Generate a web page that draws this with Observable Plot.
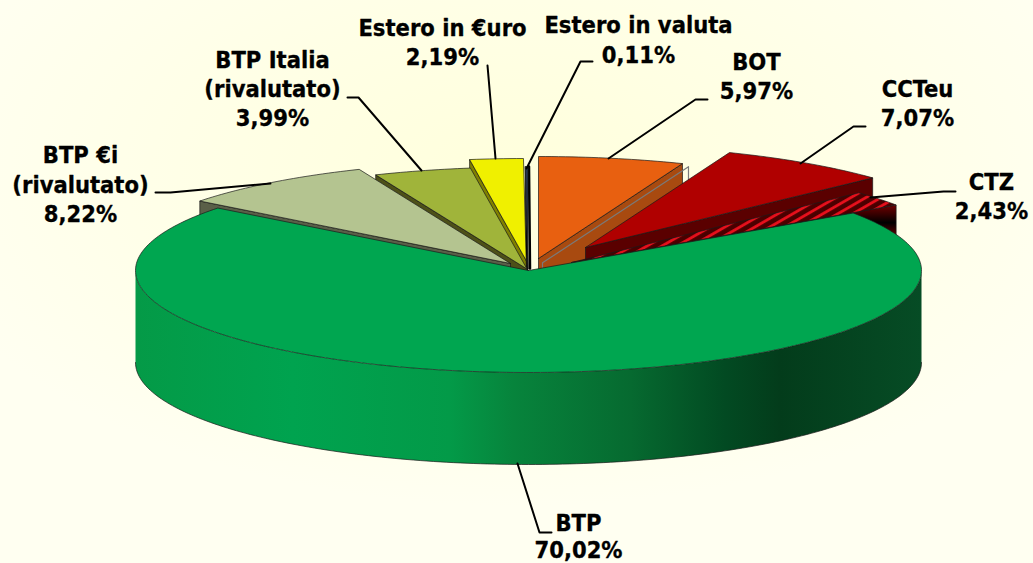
<!DOCTYPE html>
<html><head><meta charset="utf-8">
<style>html,body{margin:0;padding:0;background:#FFFFF0;overflow:hidden}</style>
<script src="https://cdn.jsdelivr.net/npm/d3@7"></script>
<script src="https://cdn.jsdelivr.net/npm/@observablehq/plot@0.6"></script>
</head><body><div id="chart"></div>
<script>
// Data, clockwise from 12 o'clock
const names = ["BOT","CCTeu","CTZ","BTP","BTP €i","BTP Italia","Estero in €uro","Estero in valuta"];
const values = [5.97,7.07,2.43,70.02,8.22,3.99,2.19,0.11];
// Explosion offset of each slice
const offsetX = [10,57,43,0,-18,-1.5,-2.3,-0.5];
const offsetY = [-12,-23,-8,0,-7,-1.5,-10,-2];
const topFill = ["#E86010","#B00000","url(#hatch)","#00A650","#B4C490","#A0B43A","#F0F000","#26364F"];
const sideFill = ["#A84A10","#5A0000","url(#ctzSide)","url(#rim)","#5A5F48","#4D5018","#808000","#000000"];
// Geometry of the pie
const cx = 528, cy = 270, rx = 393, ry = 102, depth = 92;
// Label layout
const labelLines = [
  ["Estero in €uro",442,28],["2,19%",442,57],
  ["Estero in valuta",638,25],["0,11%",638,55],
  ["BOT",756,62],["5,97%",756,91],
  ["CCTeu",917,89],["7,07%",917,118],
  ["CTZ",991,182],["2,43%",991,211],
  ["BTP Italia",272,60],["(rivalutato)",272,89],["3,99%",272,118],
  ["BTP €i",80,155],["(rivalutato)",80,185],["8,22%",80,214],
  ["BTP",578,523],["70,02%",578,550]
];
const leaders = [
  [[487,65],[495,158]],
  [[592,61],[580,61],[526,168]],
  [[707,99],[695,99],[608,158]],
  [[865,126],[853,126],[800,163]],
  [[955,191],[943,191],[870,197]],
  [[347,97],[358,97],[421,170]],
  [[155,192],[170,192],[270,183]],
  [[517,463],[539,532],[551,532]]
];

const rad = d => d * Math.PI / 180;
let cum = 0;
const slices = names.map((name, i) => {
  const a0 = 90 - cum * 3.6;
  cum += values[i];
  const a1 = 90 - cum * 3.6;
  return {name, a0, a1, ox: cx + offsetX[i], oy: cy + offsetY[i], top: topFill[i], side: sideFill[i]};
});
const pt = (s, a, dz = 0) => [s.ox + rx * Math.cos(rad(a)), s.oy - ry * Math.sin(rad(a)) + dz];
const arc = (s, from, to, dz = 0) => {
  const n = Math.max(2, Math.ceil(Math.abs(to - from)));
  return d3.range(n + 1).map(k => pt(s, from + (to - from) * k / n, dz));
};
const closed = p => [...p, p[0]];
const edgeColor = "#1a1a1a";

function poly(points, fill, stroke = edgeColor, strokeWidth = 0.7) {
  return Plot.line(closed(points), {x: d => d[0], y: d => d[1], fill, stroke, strokeWidth});
}
function sliceMarks(s, extra = []) {
  const mid = (s.a0 + s.a1) / 2;
  const lowAngle = Math.cos(rad(mid)) > 0 ? s.a1 : s.a0;
  const e = pt(s, lowAngle), e2 = pt(s, lowAngle, depth);
  return [
    poly([[s.ox, s.oy], e, e2, [s.ox, s.oy + depth]], s.side),
    ...extra,
    poly([[s.ox, s.oy], ...arc(s, s.a0, s.a1)], s.top)
  ];
}
const [bot, cct, ctz, btp, bei, ita, eur, val] = slices;

// Thin grey outline behind the BOT cut face
const botE = pt(bot, bot.a1);
const k = (botE[1] - bot.oy) / (botE[0] - bot.ox);
const greyOutline = Plot.line(
  [[bot.ox + 4, bot.oy + 9], [bot.ox + 4, bot.oy + 4 * k + 7], [botE[0] + 6, bot.oy + (botE[0] + 6 - bot.ox) * k + 7], [botE[0] + 6, botE[1] + 19]],
  {x: d => d[0], y: d => d[1], stroke: "#7a7a7a", strokeWidth: 1.2}
);
// The very thin "Estero in valuta" slice reads as a dark sliver
const valSliver = Plot.line([[val.ox + 1, val.oy], pt(val, val.a1)].map(([x, y]) => [x + 1, y]),
  {x: d => d[0], y: d => d[1], stroke: "#000", strokeWidth: 2.5});

const defs = () => {
  const d = document.createElementNS("http://www.w3.org/2000/svg", "defs");
  d.innerHTML = `
  <linearGradient id="rim" gradientUnits="userSpaceOnUse" x1="135" x2="921" y1="0" y2="0">
    <stop offset="0" stop-color="#049A47"/><stop offset="0.2" stop-color="#00A34F"/>
    <stop offset="0.4" stop-color="#039A48"/><stop offset="0.48" stop-color="#07843C"/>
    <stop offset="0.63" stop-color="#066A30"/><stop offset="0.75" stop-color="#024A22"/>
    <stop offset="0.82" stop-color="#033C1B"/><stop offset="1" stop-color="#064C25"/>
  </linearGradient>
  <linearGradient id="ctzSide" gradientUnits="userSpaceOnUse" x1="0" x2="0" y1="203" y2="238">
    <stop offset="0" stop-color="#7A0000"/><stop offset="0.55" stop-color="#000000"/>
    <stop offset="1" stop-color="#7A0000"/>
  </linearGradient>
  <pattern id="hatch" patternUnits="userSpaceOnUse" width="7.5" height="7.5" patternTransform="rotate(-30)">
    <rect width="7.5" height="7.5" fill="#4A0000"/><rect y="2" width="7.5" height="2.8" fill="#E8101C"/>
  </pattern>`;
  return d;
};

const rimPoly = [...arc(btp, 180, 360), ...arc(btp, 360, 180, depth)];

const plot = Plot.plot({
  width: 1033, height: 563,
  margin: 0,
  x: {domain: [0, 1033], range: [0, 1033], axis: null},
  y: {domain: [0, 563], range: [0, 563], axis: null},
  style: {background: "radial-gradient(ellipse 60% 60% at 50% 30%, #FFFFDC 0%, #FFFFE6 50%, #FFFFF1 100%)", display: "block"},
  marks: [
    defs,
    valSliver,
    ...sliceMarks(val),
    ...sliceMarks(bot, [greyOutline]),
    ...sliceMarks(cct),
    ...sliceMarks(ctz),
    ...sliceMarks(eur),
    ...sliceMarks(ita),
    ...sliceMarks(bei),
    poly(rimPoly, "url(#rim)", "none", 0),
    Plot.line(arc(btp, 180, 360, depth), {x: d => d[0], y: d => d[1], stroke: edgeColor, strokeWidth: 0.7}),
    poly([[btp.ox, btp.oy], ...arc(btp, btp.a0, btp.a1)], "#00A650"),
    ...leaders.map(l => Plot.line(l, {x: d => d[0], y: d => d[1], stroke: "#000", strokeWidth: 2})),
    Plot.text(labelLines, {
      x: d => d[1], y: d => d[2], text: d => d[0],
      fontFamily: "'DejaVu Sans Condensed','DejaVu Sans'", fontWeight: "bold", fontSize: 23.5,
      fill: "#000", stroke: "#000", strokeWidth: 0.3, textAnchor: "middle", lineAnchor: "middle"
    })
  ]
});
document.getElementById("chart").append(plot);
</script></body></html>
